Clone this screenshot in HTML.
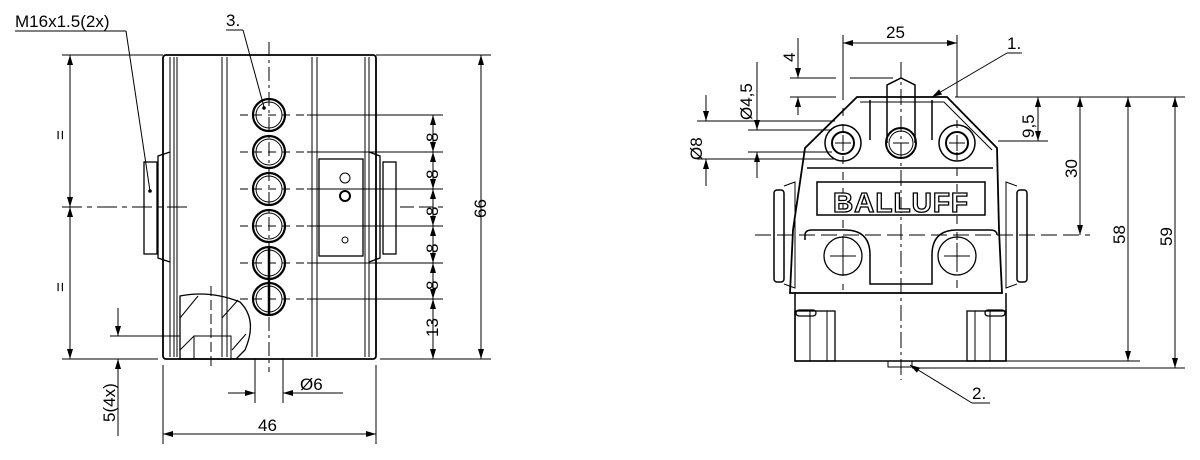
<!DOCTYPE html>
<html><head><meta charset="utf-8"><style>
html,body{margin:0;padding:0;background:#fff;}
svg{display:block;}
text{font-family:"Liberation Sans",sans-serif;}
</style></head><body>
<svg width="1200" height="460" viewBox="0 0 1200 460" xmlns="http://www.w3.org/2000/svg">
<defs>
<marker id="a" markerWidth="10" markerHeight="6" refX="10" refY="3" orient="auto-start-reverse" markerUnits="userSpaceOnUse"><path d="M0,0 L10,3 L0,6 z" fill="#000"/></marker>
</defs>
<g stroke="#000" fill="none" stroke-width="1">
<line x1="269" y1="42" x2="269" y2="372" stroke-dasharray="14,4,3,4"/>
<line x1="62" y1="207" x2="187" y2="207" stroke-dasharray="20,5,5,5"/>
<line x1="400" y1="207" x2="443" y2="207" stroke-dasharray="14,5"/>
<rect x="163" y="55" width="213" height="304" rx="3" stroke-width="1.8"/>
<line x1="170" y1="57" x2="170" y2="357"/><line x1="174" y1="57" x2="174" y2="357"/><line x1="177" y1="57" x2="177" y2="357"/>
<line x1="222" y1="57" x2="222" y2="357"/><line x1="227" y1="57" x2="227" y2="357"/>
<line x1="312" y1="57" x2="312" y2="357"/><line x1="317" y1="57" x2="317" y2="357"/>
<line x1="365" y1="57" x2="365" y2="357"/><line x1="369" y1="57" x2="369" y2="357"/>
<path d="M170,152 L158,156 L158,258 L170,262" stroke-width="1.3"/>
<rect x="144" y="162" width="13" height="92" stroke-width="1.3"/>
<path d="M369,152 L380,156 L380,258 L369,262" stroke-width="1.3"/>
<rect x="383" y="162" width="13" height="92" stroke-width="1.3"/>
<rect x="319" y="159" width="44" height="97" stroke-width="1.3"/>
<g stroke-width="2.2">
<circle cx="269" cy="115" r="16"/><circle cx="269" cy="152" r="16"/><circle cx="269" cy="189" r="16"/><circle cx="269" cy="226" r="16"/><circle cx="269" cy="263" r="16"/><circle cx="269" cy="299" r="16"/>
</g>
<g stroke-width="1"><circle cx="269" cy="115" r="13"/><circle cx="269" cy="152" r="13"/><circle cx="269" cy="189" r="13"/><circle cx="269" cy="226" r="13"/><circle cx="269" cy="263" r="13"/><circle cx="269" cy="299" r="13"/></g>
<line x1="269" y1="248" x2="269" y2="315" stroke-width="2.5"/>
<g stroke-dasharray="8,6">
<line x1="240" y1="115" x2="305" y2="115"/><line x1="240" y1="152" x2="305" y2="152"/><line x1="240" y1="189" x2="305" y2="189"/><line x1="240" y1="226" x2="305" y2="226"/><line x1="240" y1="263" x2="305" y2="263"/><line x1="240" y1="299" x2="305" y2="299"/>
</g>
<line x1="307" y1="115" x2="443" y2="115"/><line x1="307" y1="152" x2="443" y2="152"/><line x1="307" y1="189" x2="443" y2="189"/><line x1="307" y1="226" x2="443" y2="226"/><line x1="307" y1="263" x2="443" y2="263"/><line x1="307" y1="299" x2="443" y2="299"/>
<path d="M180,296 Q210,290 240,302 Q258,320 245,350 L236,359 L180,359 Z" stroke-width="1.3"/>
<rect x="194" y="336" width="37" height="23"/>
<line x1="211" y1="286" x2="211" y2="370" stroke-dasharray="10,4"/>
<line x1="180" y1="318" x2="198" y2="296"/><line x1="180" y1="350" x2="194" y2="336"/><line x1="222" y1="318" x2="238" y2="300"/><line x1="232" y1="350" x2="246" y2="334"/>
<line x1="62" y1="55" x2="163" y2="55"/><line x1="62" y1="359" x2="158" y2="359"/>
<line x1="70" y1="55" x2="70" y2="207" marker-start="url(#a)" marker-end="url(#a)"/>
<line x1="70" y1="207" x2="70" y2="359" marker-start="url(#a)" marker-end="url(#a)"/>
<line x1="376" y1="55" x2="491" y2="55"/><line x1="380" y1="359" x2="491" y2="359"/>
<line x1="481" y1="55" x2="481" y2="359" marker-start="url(#a)" marker-end="url(#a)"/>
<line x1="433" y1="115" x2="433" y2="152" marker-start="url(#a)" marker-end="url(#a)"/>
<line x1="433" y1="152" x2="433" y2="189" marker-start="url(#a)" marker-end="url(#a)"/>
<line x1="433" y1="189" x2="433" y2="226" marker-start="url(#a)" marker-end="url(#a)"/>
<line x1="433" y1="226" x2="433" y2="263" marker-start="url(#a)" marker-end="url(#a)"/>
<line x1="433" y1="263" x2="433" y2="299" marker-start="url(#a)" marker-end="url(#a)"/>
<line x1="433" y1="299" x2="433" y2="359" marker-start="url(#a)" marker-end="url(#a)"/>
<line x1="110" y1="336" x2="180" y2="336"/>
<line x1="118" y1="308" x2="118" y2="336" marker-end="url(#a)"/>
<line x1="118" y1="436" x2="118" y2="359" marker-end="url(#a)"/>
<line x1="255" y1="359" x2="255" y2="403"/><line x1="283" y1="359" x2="283" y2="403"/>
<line x1="228" y1="393" x2="255" y2="393" marker-end="url(#a)"/>
<line x1="343" y1="393" x2="283" y2="393" marker-end="url(#a)"/>
<line x1="163" y1="365" x2="163" y2="444"/><line x1="376" y1="365" x2="376" y2="444"/>
<line x1="163" y1="434" x2="376" y2="434" marker-start="url(#a)" marker-end="url(#a)"/>
<line x1="15" y1="31" x2="126" y2="31"/><line x1="126" y1="31" x2="150" y2="191"/>
<line x1="226" y1="30" x2="243" y2="30"/><line x1="243" y1="30" x2="264" y2="107"/>
<circle cx="345" cy="178" r="5"/><circle cx="345" cy="196" r="5" stroke-width="2"/><circle cx="345" cy="240" r="3"/>
</g>
<circle cx="150" cy="191" r="1.8"/><circle cx="264" cy="108" r="1.8"/>
<g font-size="17">
<text x="15" y="27">M16x1.5(2x)</text>
<text x="226" y="26">3.</text>
<text x="258" y="431">46</text>
<text x="300" y="390">Ø6</text>
<text transform="translate(66,140) rotate(-90)">=</text>
<text transform="translate(66,292) rotate(-90)">=</text>
<text transform="translate(438,142) rotate(-90)">8</text>
<text transform="translate(438,179) rotate(-90)">8</text>
<text transform="translate(438,216) rotate(-90)">8</text>
<text transform="translate(438,253) rotate(-90)">8</text>
<text transform="translate(438,290) rotate(-90)">8</text>
<text transform="translate(438,337) rotate(-90)">13</text>
<text transform="translate(486,218) rotate(-90)">66</text>
<text transform="translate(115,422) rotate(-90)">5(4x)</text>
</g>

<g stroke="#000" fill="none" stroke-width="1">
<line x1="901" y1="62" x2="901" y2="380" stroke-dasharray="16,4,3,4"/>
<line x1="755" y1="235" x2="1090" y2="235" stroke-dasharray="16,6"/>
<path d="M857,97 L947,97 L997,148 L999,230 L1002,293 L790,293 L793,230 L805,148 Z" stroke-width="1.8"/>
<path d="M860,102 L944,102 L992,150"/>
<path d="M807,168 L993,168" stroke-width="1.5"/>
<line x1="870" y1="100" x2="870" y2="140" stroke-width="1.5"/><line x1="932" y1="100" x2="932" y2="140" stroke-width="1.5"/>
<path d="M887,143 L887,85 L901,78 L915,85 L915,143" stroke-width="1.5"/>
<circle cx="901" cy="143" r="15" stroke-width="2"/><circle cx="901" cy="143" r="12"/>
<circle cx="843" cy="143" r="18" stroke-width="1.5"/><circle cx="843" cy="143" r="11" stroke-width="2"/>
<circle cx="957" cy="143" r="18" stroke-width="1.5"/><circle cx="957" cy="143" r="11" stroke-width="2"/>
<line x1="835" y1="143" x2="851" y2="143"/><line x1="843" y1="135" x2="843" y2="151"/>
<line x1="949" y1="143" x2="965" y2="143"/><line x1="957" y1="135" x2="957" y2="151"/>
<line x1="893" y1="143" x2="909" y2="143"/>
<rect x="817" y="182" width="168" height="33" stroke-width="1.5"/>
<path d="M805,240 L805,235 Q805,230 812,230 L845,230 Q870,230 870,255 L870,284 L932,284 L932,255 Q932,230 957,230 L990,230 Q997,230 997,235" stroke-width="1.5"/>
<circle cx="843" cy="256" r="19" stroke-width="1.3"/><circle cx="957" cy="256" r="19" stroke-width="1.3"/>
<line x1="830" y1="256" x2="856" y2="256"/><line x1="843" y1="243" x2="843" y2="269"/>
<line x1="944" y1="256" x2="970" y2="256"/><line x1="957" y1="243" x2="957" y2="269"/>
<line x1="843" y1="60" x2="843" y2="290" stroke-dasharray="8,8"/>
<line x1="957" y1="120" x2="957" y2="290" stroke-dasharray="8,8"/>
<rect x="774" y="190" width="10" height="92" rx="3" stroke-width="1.5"/><path d="M784,186 L795,182 L795,288 L784,284"/>
<rect x="1017" y="190" width="10" height="92" rx="3" stroke-width="1.5"/><path d="M1017,186 L1006,182 L1006,288 L1017,284"/>
<path d="M795,293 L795,361 L1006,361 L1006,293" stroke-width="1.5"/>
<rect x="795" y="311" width="40" height="50" stroke-width="1.3"/><rect x="967" y="311" width="39" height="50" stroke-width="1.3"/>
<line x1="810" y1="311" x2="810" y2="361"/><line x1="827" y1="311" x2="827" y2="361"/>
<line x1="975" y1="311" x2="975" y2="361"/><line x1="990" y1="311" x2="990" y2="361"/>
<rect x="796" y="310" width="20" height="6" rx="3" stroke-width="1.3"/><rect x="985" y="310" width="20" height="6" rx="3" stroke-width="1.3"/>
<rect x="888" y="361" width="24" height="6"/>
<line x1="843" y1="35" x2="843" y2="95"/><line x1="957" y1="35" x2="957" y2="97"/>
<line x1="843" y1="43" x2="957" y2="43" marker-start="url(#a)" marker-end="url(#a)"/>
<line x1="790" y1="78" x2="836" y2="78"/><line x1="850" y1="78" x2="893" y2="78"/><line x1="790" y1="97" x2="836" y2="97"/>
<line x1="798" y1="38" x2="798" y2="78" marker-end="url(#a)"/><line x1="798" y1="115" x2="798" y2="97" marker-end="url(#a)"/>
<line x1="748" y1="130" x2="832" y2="130"/><line x1="748" y1="152" x2="832" y2="152"/>
<line x1="757" y1="62" x2="757" y2="130" marker-end="url(#a)"/><line x1="757" y1="178" x2="757" y2="152" marker-end="url(#a)"/>
<line x1="697" y1="121" x2="835" y2="121"/><line x1="697" y1="159" x2="835" y2="159"/>
<line x1="706" y1="95" x2="706" y2="121" marker-end="url(#a)"/><line x1="706" y1="186" x2="706" y2="159" marker-end="url(#a)"/>
<line x1="955" y1="97" x2="1185" y2="97"/><line x1="998" y1="141" x2="1048" y2="141"/>
<line x1="1038" y1="97" x2="1038" y2="141" marker-start="url(#a)" marker-end="url(#a)"/>
<line x1="1080" y1="97" x2="1080" y2="235" marker-start="url(#a)" marker-end="url(#a)"/>
<line x1="1006" y1="361" x2="1140" y2="361"/><line x1="912" y1="368" x2="1185" y2="368"/>
<line x1="1128" y1="97" x2="1128" y2="361" marker-start="url(#a)" marker-end="url(#a)"/>
<line x1="1175" y1="97" x2="1175" y2="368" marker-start="url(#a)" marker-end="url(#a)"/>
<line x1="1007" y1="53" x2="1022" y2="53"/><line x1="1007" y1="53" x2="932" y2="97" marker-end="url(#a)"/>
<line x1="972" y1="403" x2="990" y2="403"/><line x1="972" y1="403" x2="910" y2="365" marker-end="url(#a)"/>
</g>
<text x="901" y="212" font-size="28" font-weight="bold" text-anchor="middle" style="fill:#fff;stroke:#000;stroke-width:1.3" letter-spacing="1">BALLUFF</text>
<g font-size="17">
<text x="886" y="38">25</text>
<text x="1007" y="49">1.</text>
<text x="972" y="399">2.</text>
<text transform="translate(795,62) rotate(-90)">4</text>
<text transform="translate(752,120) rotate(-90)">Ø4,5</text>
<text transform="translate(702,160) rotate(-90)">Ø8</text>
<text transform="translate(1034,138) rotate(-90)">9,5</text>
<text transform="translate(1077,178) rotate(-90)">30</text>
<text transform="translate(1125,244) rotate(-90)">58</text>
<text transform="translate(1172,246) rotate(-90)">59</text>
</g>
</svg>
</body></html>
